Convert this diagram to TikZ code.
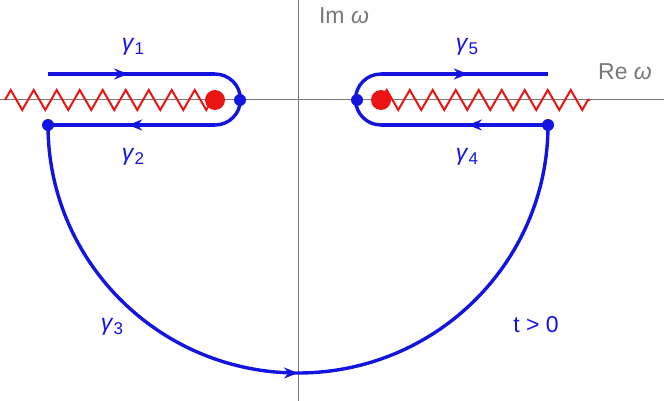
\documentclass[tikz,border=0pt]{standalone}
\usepackage{fontspec}
\setmainfont{Liberation Sans}
\usetikzlibrary{decorations.pathmorphing,decorations.markings,arrows.meta}
\definecolor{cb}{RGB}{20,20,225}
\definecolor{cr}{RGB}{235,20,20}
\definecolor{cg}{RGB}{120,120,120}
\newcommand{\gsub}[1]{\textit{γ}\raisebox{-0.35ex}{\fontsize{17}{17}\selectfont #1}}
\begin{document}
\begin{tikzpicture}[x=1pt,y=-1pt,
  ctr/.style={cb,line width=3.4pt},
  zz/.style={cr,line width=2pt,decorate,decoration={zigzag,segment length=23pt,amplitude=10pt}},
  midarrow/.style={postaction={decorate},decoration={markings,mark=at position #1 with {\arrow{Stealth[length=14pt,width=11pt]}}}},
  lbl/.style={cb,font=\fontsize{23}{23}\selectfont},
  glbl/.style={cg,font=\fontsize{23}{23}\selectfont}]
\useasboundingbox (0,0) rectangle (664,401);
\draw[cg,line width=1pt] (298,0) -- (298,401);
\draw[cg,line width=1pt] (0,100) -- (664,100);
\node[glbl] (im) at (344,16) {Im \textit{ω}};
\node[glbl] (re) at (625,72) {Re \textit{ω}};
% zigzags
\draw[zz] (5,100) -- (215,100);
\draw[zz] (381,100) -- (590,100);
% left contour
\draw[ctr,midarrow=0.48] (48,74) -- (215,74);
\draw[ctr] (215,74) arc[start angle=-90,end angle=90,radius=25.5];
\draw[ctr,midarrow=0.52] (215,125) -- (48,125);
% right contour
\draw[ctr,midarrow=0.52] (381,74) -- (548,74);
\draw[ctr] (381,74) arc[start angle=-90,end angle=-270,radius=25.5];
\draw[ctr,midarrow=0.48] (548,125) -- (381,125);
% big arc
\draw[ctr,midarrow=0.5] (48,125) arc[start angle=180,end angle=360,x radius=250,y radius=-248];
\fill[cr] (215,100) circle (10);
\fill[cr] (381,100) circle (10);
\fill[cb] (240,100) circle (6);
\fill[cb] (357,100) circle (6);
\fill[cb] (48,125) circle (6);
\fill[cb] (548,125) circle (6);
\node[lbl] (g1) at (133,47) {\gsub{1}};
\node[lbl] (g2) at (133,157) {\gsub{2}};
\node[lbl] (g3) at (112,327) {\gsub{3}};
\node[lbl] (g4) at (467,157) {\gsub{4}};
\node[lbl] (g5) at (467,47) {\gsub{5}};
\node[lbl] (t) at (536,325) {t > 0};
\end{tikzpicture}
\end{document}
